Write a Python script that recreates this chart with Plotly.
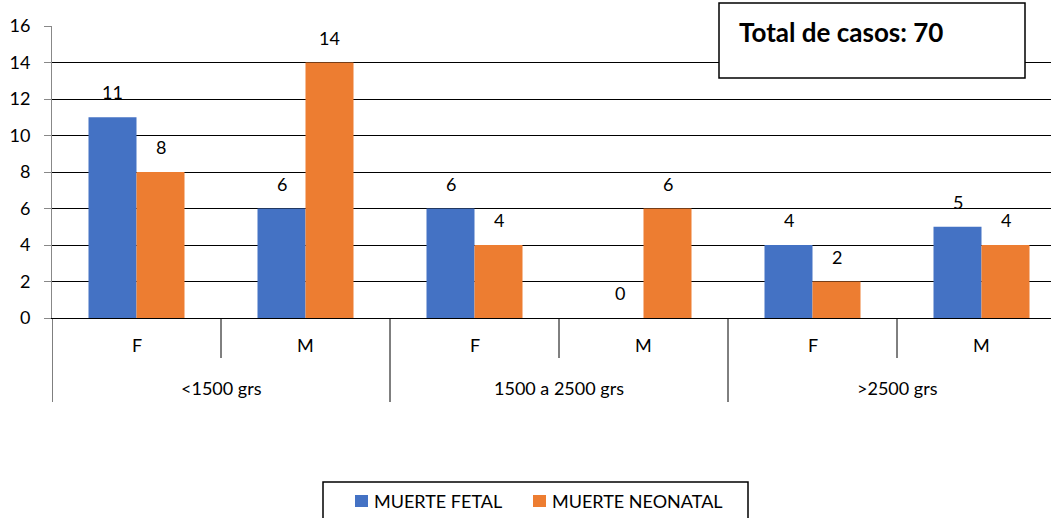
import plotly.graph_objects as go

groups = ["<1500 grs", "1500 a 2500 grs", ">2500 grs"]
sexes = ["F", "M", "F", "M", "F", "M"]
fetal = [11, 6, 6, 0, 4, 5]
neonatal = [8, 14, 4, 6, 2, 4]
series_names = ["MUERTE FETAL", "MUERTE NEONATAL"]
colors = ["#4472C4", "#ED7D31"]
total_text = "Total de casos: 70"

FONT = "Lato, Carlito, Calibri, sans-serif"
FS = 18
xpos = list(range(len(sexes)))

PL, PT = 52, 26          # plot left/top on screen
PW = 1051 - PL           # plot width in px
PH = 292.0               # plot height in px
CAT = 169.0              # px per category


def px(sx):
    return (sx - PL) / PW


def py(sy):
    return (PT + PH - sy) / PH


fig = go.Figure()
for name, vals, col in zip(series_names, [fetal, neonatal], colors):
    fig.add_trace(go.Bar(x=xpos, y=vals, name=name, marker=dict(color=col, line=dict(width=0)),
                         showlegend=False, hoverinfo="skip"))

annotations = []
bw = (1 - 0.432) / 2
for k, vals in enumerate([fetal, neonatal]):
    for i, v in enumerate(vals):
        annotations.append(dict(x=i + (k - 0.5) * bw, y=v, xref="x", yref="y", text=str(v),
                                showarrow=False, yshift=25, yanchor="middle",
                                font=dict(size=FS, color="#000", family=FONT)))
for i, s in enumerate(sexes):
    annotations.append(dict(x=i, y=py(345), xref="x", yref="paper", text=s, showarrow=False,
                            yanchor="middle", font=dict(size=FS, color="#000", family=FONT)))
for g, name in enumerate(groups):
    annotations.append(dict(x=2 * g + 0.5, y=py(388), xref="x", yref="paper", text=name, showarrow=False,
                            yanchor="middle", font=dict(size=FS, color="#000", family=FONT)))
annotations.append(dict(x=px(737), y=py(32), xref="paper", yref="paper",
                        text="<b>" + total_text + "</b>", showarrow=False, xanchor="left", yanchor="middle",
                        font=dict(size=26, color="#000", family=FONT)))

shapes = []
for xv in [0.5, 2.5, 4.5]:
    shapes.append(dict(type="line", xref="x", yref="paper", x0=xv, x1=xv, y0=0, y1=py(358),
                       line=dict(color="#000", width=1)))
for xv in [-0.5, 1.5, 3.5]:
    shapes.append(dict(type="line", xref="x", yref="paper", x0=xv, x1=xv, y0=0, y1=py(402),
                       line=dict(color="#000", width=1)))
shapes.append(dict(type="rect", xref="paper", yref="paper",
                   x0=px(719), x1=px(1025), y0=py(78), y1=py(3),
                   fillcolor="white", line=dict(color="#000", width=1.5), layer="above"))

# legend (drawn box with swatches)
shapes.append(dict(type="rect", xref="paper", yref="paper", x0=px(323), x1=px(748), y0=py(530), y1=py(482),
                   fillcolor="white", line=dict(color="#000", width=1.5)))
leg_sq = [355, 533]
for name, col, sx in zip(series_names, colors, leg_sq):
    shapes.append(dict(type="rect", xref="paper", yref="paper", x0=px(sx), x1=px(sx + 13),
                       y0=py(507), y1=py(495), fillcolor=col, line=dict(width=0)))
    annotations.append(dict(x=px(sx + 17), y=py(501), xref="paper", yref="paper", text=name,
                            showarrow=False, xanchor="left", yanchor="middle",
                            font=dict(size=FS, color="#000", family=FONT)))

fig.update_layout(
    width=1051, height=518,
    margin=dict(l=PL, r=0, t=PT, b=int(518 - PT - PH)),
    paper_bgcolor="white", plot_bgcolor="white",
    barmode="group", bargap=0.432, bargroupgap=0,
    font=dict(family=FONT, size=FS, color="#000"),
    showlegend=False,
    xaxis=dict(range=[-0.5, -0.5 + PW / CAT], showticklabels=False, showgrid=False, zeroline=False,
               showline=True, linecolor="#000", linewidth=1, ticks=""),
    yaxis=dict(range=[0, 16], dtick=2, showgrid=True, gridcolor="#000", gridwidth=1, zeroline=False,
               showline=True, linecolor="#888", linewidth=1, ticks="outside", tickcolor="#888", ticklen=7,
               ticklabelstandoff=10, tickfont=dict(size=FS, family=FONT)),
    annotations=annotations, shapes=shapes,
)
fig.write_html("out.html", config={"displayModeBar": False},
               post_script="document.body.style.margin='0';document.body.style.overflow='hidden';")
